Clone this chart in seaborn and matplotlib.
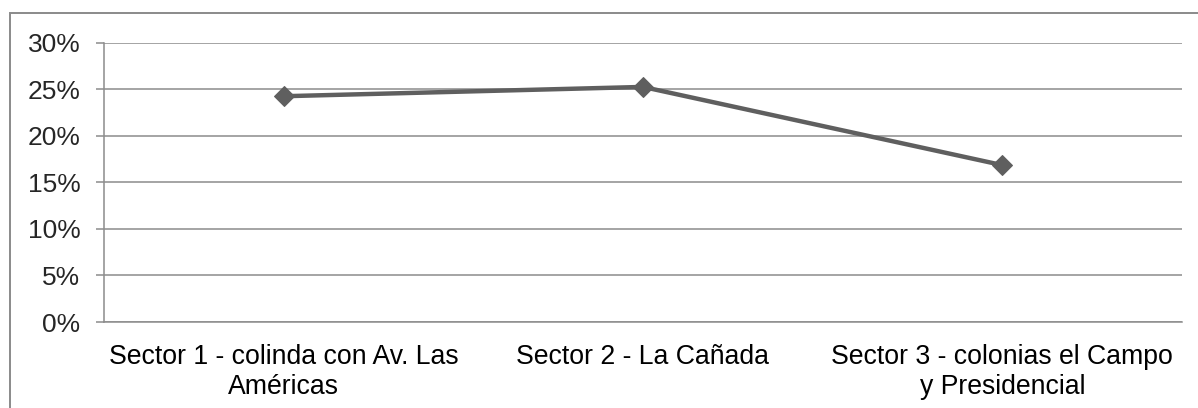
import matplotlib
matplotlib.use("Agg")
import matplotlib.pyplot as plt
from matplotlib.patches import Rectangle
from matplotlib.ticker import FixedLocator, PercentFormatter
import seaborn as sns
import pandas as pd

sectors = [
    "Sector 1 - colinda con Av. Las\nAméricas",
    "Sector 2 - La Cañada",
    "Sector 3 - colonias el Campo\ny Presidencial",
]
shares = [24.25, 25.25, 16.85]
y_ticks = [0, 5, 10, 15, 20, 25, 30]

sns.set_style("white")
plt.rcParams["font.family"] = ["Liberation Sans", "DejaVu Sans"]

df = pd.DataFrame({"sector": sectors, "share": shares})

fig = plt.figure(figsize=(11.98, 4.08), dpi=100)
ax = fig.add_axes([104 / 1198, 86 / 408, (1182 - 104) / 1198, (322 - 42.7) / 408])

grid_c = "#8c8c8c"
line_c = "#5f5f5f"

sns.lineplot(data=df, x="sector", y="share", ax=ax, sort=False,
             color=line_c, linewidth=3.2, marker="D", markersize=10,
             markeredgecolor=line_c, markerfacecolor=line_c, zorder=3)

ax.set_xlim(-0.5, 2.5)
ax.set_ylim(0, 30)
ax.yaxis.set_major_locator(FixedLocator(y_ticks))
ax.yaxis.set_major_formatter(PercentFormatter(decimals=0))
ax.grid(axis="y", color=grid_c, linewidth=1.1)
ax.set_axisbelow(True)

for s in ["top", "right"]:
    ax.spines[s].set_visible(False)
for s in ["left", "bottom"]:
    ax.spines[s].set_color(grid_c)
    ax.spines[s].set_linewidth(1.1)

ax.set_xlabel("")
ax.set_ylabel("")
ax.set_xticks([0, 1, 2])
ax.set_xticklabels(sectors, fontsize=19.2, linespacing=1.2)
ax.set_xticks([-0.5, 0.5, 1.5, 2.5], minor=True)
ax.tick_params(axis="x", which="major", length=0, pad=16, colors="black")
ax.tick_params(axis="x", which="minor", length=6, width=1.1, color=grid_c, direction="out")
ax.tick_params(axis="y", which="major", length=6, width=1.1, color=grid_c,
               direction="out", labelsize=19, pad=11, left=True)

# chart border
fig.patches.append(Rectangle((10 / 1198, -0.05), 1.2, (408 - 13) / 408 + 0.05,
                             transform=fig.transFigure, fill=False,
                             edgecolor="#8a8a8a", linewidth=1.4))

fig.savefig("out.png", dpi=100, facecolor="white")
